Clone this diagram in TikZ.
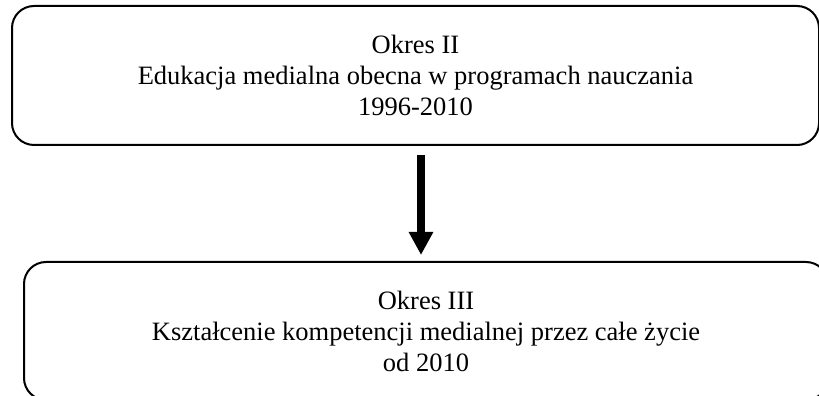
\documentclass[tikz,border=0pt]{standalone}
\usepackage{fontspec}
\setmainfont{Liberation Serif}
\usetikzlibrary{arrows.meta}
\begin{document}
\begin{tikzpicture}[x=1pt,y=1pt,
        okres/.style={draw=black, line width=1pt, rounded corners=11pt, align=center, inner sep=0pt,
            font=\fontsize{13.25pt}{15.5pt}\selectfont},
        strzalka/.style={line width=3.8pt, -{Triangle[width=11.5pt,length=11.5pt]},
            shorten <=4.5pt, shorten >=3pt}]
    \useasboundingbox (0,0) rectangle (409.5,198);
    \clip (0,0) rectangle (409.5,198);
    % Okres II
    \node[okres, minimum width=403.5pt, minimum height=69.5pt] (okres2) at (207.75,160.25)
        {Okres II\\Edukacja medialna obecna w programach nauczania\\1996-2010};
    % Okres III (ramka wychodzi poza obraz)
    \node[okres, minimum width=402pt, minimum height=69pt] (okres3) at (213,32.5)
        {Okres III\\Kształcenie kompetencji medialnej przez całe życie\\od 2010};
    % strzalka
    \draw[strzalka] ([xshift=2.75pt]okres2.south) -- ([xshift=2.75pt]okres2.south |- okres3.north);
\end{tikzpicture}
\end{document}
